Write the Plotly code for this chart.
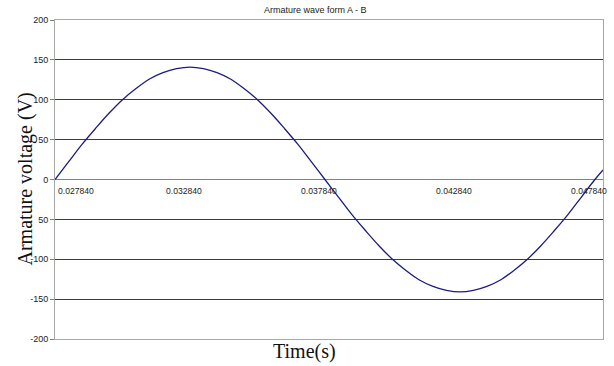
import plotly.graph_objects as go

# time samples (s) and armature voltage (V)
time_s = [0.02784, 0.02834, 0.02884, 0.02934, 0.02984, 0.03034, 0.03084, 0.03134,
          0.03184, 0.03234, 0.03284, 0.03334, 0.03384, 0.03434, 0.03484, 0.03534,
          0.03584, 0.03634, 0.03684, 0.03734, 0.03784, 0.03834, 0.03884, 0.03934,
          0.03984, 0.04034, 0.04084, 0.04134, 0.04184, 0.04234, 0.04284, 0.04334,
          0.04384, 0.04434, 0.04484, 0.04534, 0.04584, 0.04634, 0.04684, 0.04734,
          0.04784, 0.04814]
voltage = [0, 22, 44, 64, 83, 100, 114, 126, 134, 139, 141, 139, 134, 126, 114, 100,
           83, 64, 44, 22, 0, -22, -44, -64, -83, -100, -114, -126, -134, -139, -141,
           -139, -134, -126, -114, -100, -83, -64, -44, -22, 0, 12]

x_tick_vals = [0.02784, 0.03284, 0.03784, 0.04284, 0.04784]
x_tick_text = ["0.027840", "0.032840", "0.037840", "0.042840", "0.047840"]
y_tick_vals = [-200, -150, -100, -50, 0, 50, 100, 150, 200]
y_tick_text = ["-200", "-150", "-100", "50", "0", "50", "100", "150", "200"]

title_text = "Armature wave form A - B"
x_title = "Time(s)"
y_title = "Armature voltage (V)"

sans = "Liberation Sans, Arial, sans-serif"
serif = "Liberation Serif, Times New Roman, serif"

fig = go.Figure()
fig.add_trace(go.Scatter(
    x=time_s, y=voltage, mode="lines",
    line=dict(color="#1c1c80", width=1.3, shape="spline"),
    showlegend=False, hoverinfo="skip",
))

annotations = []
for i, (v, t) in enumerate(zip(x_tick_vals, x_tick_text)):
    first = i == 0
    annotations.append(dict(
        x=v, y=0, xref="x", yref="y", text=t, showarrow=False,
        xanchor="left" if first else "center", yanchor="top",
        xshift=1 if first else -6, yshift=-4,
        font=dict(family=sans, size=8.6, color="#222"),
    ))

annotations += [
    dict(text=title_text, xref="paper", yref="paper", x=0.476, y=1.03,
         xanchor="center", yanchor="middle", showarrow=False,
         font=dict(family=sans, size=9, color="#222")),
    dict(text=x_title, xref="paper", yref="paper", x=0.456, y=-0.038,
         xanchor="center", yanchor="middle", showarrow=False,
         font=dict(family=serif, size=20, color="#111")),
    dict(text=y_title, xref="paper", yref="paper", x=-0.0547, y=0.5,
         xanchor="center", yanchor="middle", showarrow=False, textangle=-90,
         font=dict(family=serif, size=20, color="#111")),
]

fig.update_layout(
    width=614, height=366,
    margin=dict(l=55, r=11, t=20, b=27),
    paper_bgcolor="white", plot_bgcolor="white",
    annotations=annotations,
)
fig.update_xaxes(
    range=[time_s[0], time_s[-1]], showgrid=False, zeroline=False,
    showticklabels=False, ticks="",
    showline=True, mirror=True, linecolor="#a8a8a8", linewidth=1,
)
fig.update_yaxes(
    range=[-200, 200], tickvals=y_tick_vals, ticktext=y_tick_text,
    showgrid=True, gridcolor="#3c3c3c", gridwidth=1,
    zeroline=True, zerolinecolor="#808080", zerolinewidth=1,
    showline=True, mirror=True, linecolor="#a8a8a8", linewidth=1,
    ticks="outside", ticklen=4, tickcolor="#808080",
    tickfont=dict(family=sans, size=9, color="#222"),
)

fig.write_html("out.html")
